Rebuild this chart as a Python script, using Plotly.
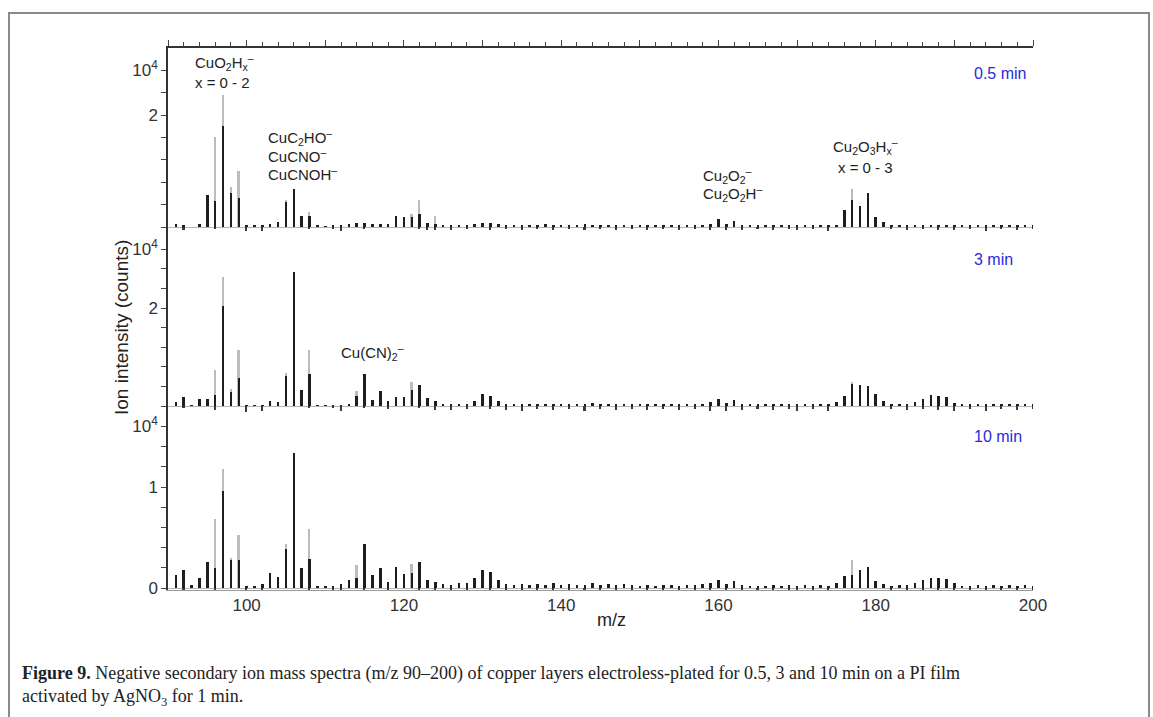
import plotly.graph_objects as go

# m/z channels (integer masses)
mz = list(range(90, 201))

# ---- 0.5 min spectrum (x1e4 counts) ----
black_05 = [
    0.00, 0.05, 0.03, 0.00, 0.05, 0.58, 0.46, 1.80, 0.61, 0.51,
    0.02, 0.02, 0.02, 0.05, 0.09, 0.45, 0.67, 0.19, 0.19, 0.02,
    0.01, 0.02, 0.02, 0.05, 0.08, 0.08, 0.06, 0.06, 0.06, 0.19,
    0.17, 0.18, 0.24, 0.08, 0.06, 0.03, 0.02, 0.03, 0.04, 0.05,
    0.08, 0.08, 0.06, 0.03, 0.03, 0.04, 0.02, 0.03, 0.05, 0.02,
    0.03, 0.04, 0.02, 0.05, 0.03, 0.02, 0.04, 0.03, 0.02, 0.03,
    0.02, 0.03, 0.02, 0.03, 0.02, 0.03, 0.04, 0.03, 0.04, 0.06,
    0.14, 0.05, 0.11, 0.04, 0.03, 0.02, 0.02, 0.03, 0.02, 0.03,
    0.02, 0.03, 0.02, 0.03, 0.02, 0.04, 0.30, 0.48, 0.37, 0.60,
    0.18, 0.09, 0.03, 0.02, 0.02, 0.03, 0.02, 0.02, 0.02, 0.02,
    0.02, 0.02, 0.02, 0.02, 0.02, 0.03, 0.02, 0.02, 0.03, 0.02,
    0.02,
]
dip_05 = [
    0, 0, -0.05, 0, 0, 0, -0.03, 0, 0, 0,
    -0.08, 0, -0.07, 0, 0, 0, 0, 0, -0.04, 0,
    0, -0.03, -0.07, 0, 0, -0.04, 0, 0, 0, 0,
    0, 0, -0.04, -0.05, -0.05, 0, -0.05, 0, -0.04, 0,
    0, -0.05, 0, -0.04, 0, -0.06, 0, -0.04, 0, -0.05,
    0, -0.04, 0, -0.06, 0, -0.04, 0, -0.05, 0, -0.04,
    0, -0.05, 0, -0.04, 0, -0.05, 0, -0.04, 0, -0.06,
    0, -0.06, 0, -0.05, 0, -0.04, 0, -0.05, 0, -0.04,
    -0.06, 0, -0.04, 0, -0.07, 0, 0, 0, 0, 0,
    0, 0, -0.04, 0, -0.05, 0, -0.04, 0, -0.05, 0,
    -0.06, 0, -0.04, 0, -0.07, 0, -0.04, 0, -0.05, 0,
    -0.04,
]

# ---- 3 min spectrum ----
black_3 = [
    0.00, 0.08, 0.19, 0.02, 0.15, 0.15, 0.22, 2.04, 0.29, 0.58,
    0.02, 0.02, 0.02, 0.11, 0.09, 0.61, 2.74, 0.32, 0.65, 0.02,
    0.02, 0.02, 0.02, 0.05, 0.20, 0.65, 0.13, 0.31, 0.10, 0.18,
    0.18, 0.32, 0.42, 0.16, 0.10, 0.03, 0.03, 0.05, 0.05, 0.10,
    0.24, 0.20, 0.10, 0.04, 0.03, 0.05, 0.03, 0.05, 0.03, 0.04,
    0.03, 0.05, 0.03, 0.04, 0.06, 0.03, 0.04, 0.03, 0.05, 0.03,
    0.03, 0.04, 0.03, 0.03, 0.04, 0.03, 0.05, 0.04, 0.05, 0.08,
    0.14, 0.06, 0.12, 0.05, 0.03, 0.03, 0.03, 0.04, 0.03, 0.04,
    0.03, 0.05, 0.03, 0.04, 0.03, 0.08, 0.20, 0.44, 0.42, 0.40,
    0.24, 0.10, 0.04, 0.03, 0.04, 0.08, 0.15, 0.22, 0.20, 0.18,
    0.06, 0.03, 0.03, 0.04, 0.03, 0.05, 0.03, 0.04, 0.03, 0.05,
    0.03,
]
dip_3 = [
    0, 0, -0.05, 0, 0, 0, -0.08, 0, 0, 0,
    -0.12, 0, -0.10, 0, 0, 0, 0, 0, -0.05, 0,
    0, -0.05, -0.10, 0, 0, -0.05, 0, 0, -0.06, 0,
    0, 0, -0.05, 0, -0.08, 0, -0.08, 0, -0.06, 0,
    0, -0.06, 0, -0.08, 0, -0.10, 0, -0.06, 0, -0.08,
    0, -0.06, 0, -0.10, 0, -0.06, 0, -0.08, 0, -0.06,
    0, -0.08, 0, -0.06, 0, -0.08, 0, -0.06, 0, -0.10,
    0, -0.10, 0, -0.08, 0, -0.06, 0, -0.08, 0, -0.06,
    -0.10, 0, -0.06, 0, -0.11, 0, 0, 0, 0, 0,
    0, 0, -0.06, 0, -0.08, 0, -0.06, 0, -0.08, 0,
    -0.10, 0, -0.06, 0, -0.11, 0, -0.06, 0, -0.08, 0,
    -0.06,
]

# ---- 10 min spectrum ----
black_10 = [
    0.00, 0.13, 0.18, 0.03, 0.10, 0.26, 0.20, 0.96, 0.28, 0.28,
    0.01, 0.02, 0.04, 0.15, 0.11, 0.39, 1.34, 0.20, 0.29, 0.02,
    0.01, 0.02, 0.04, 0.08, 0.10, 0.44, 0.13, 0.20, 0.06, 0.21,
    0.14, 0.15, 0.26, 0.08, 0.06, 0.04, 0.03, 0.05, 0.05, 0.10,
    0.18, 0.16, 0.08, 0.04, 0.03, 0.04, 0.03, 0.04, 0.03, 0.05,
    0.03, 0.04, 0.03, 0.03, 0.05, 0.03, 0.04, 0.03, 0.04, 0.03,
    0.02, 0.03, 0.02, 0.03, 0.03, 0.02, 0.03, 0.03, 0.04, 0.05,
    0.08, 0.04, 0.07, 0.03, 0.02, 0.02, 0.02, 0.03, 0.02, 0.03,
    0.02, 0.03, 0.02, 0.03, 0.02, 0.05, 0.12, 0.13, 0.18, 0.21,
    0.07, 0.04, 0.02, 0.03, 0.03, 0.05, 0.08, 0.10, 0.10, 0.09,
    0.05, 0.02, 0.02, 0.03, 0.02, 0.03, 0.02, 0.03, 0.02, 0.03,
    0.02,
]
dip_10 = [
    0, 0, -0.02, 0, 0, 0, -0.03, 0, 0, 0,
    -0.05, 0, -0.04, 0, 0, 0, 0, 0, -0.03, 0,
    0, -0.02, -0.04, 0, 0, -0.03, 0, 0, -0.03, 0,
    0, 0, -0.03, 0, -0.04, 0, -0.04, 0, -0.03, 0,
    0, -0.03, 0, -0.04, 0, -0.05, 0, -0.03, 0, -0.04,
    0, -0.03, 0, -0.05, 0, -0.03, 0, -0.04, 0, -0.03,
    0, -0.04, 0, -0.03, 0, -0.04, 0, -0.03, 0, -0.05,
    0, -0.05, 0, -0.04, 0, -0.03, 0, -0.04, 0, -0.03,
    -0.05, 0, -0.03, 0, -0.06, 0, 0, 0, 0, 0,
    0, 0, -0.03, 0, -0.04, 0, -0.03, 0, -0.04, 0,
    -0.05, 0, -0.03, 0, -0.06, 0, -0.03, 0, -0.04, 0,
    -0.03,
]

# second (grey) trace: only the channels where it rises above the black one
gray_mz = [96, 97, 98, 99, 105, 108, 114, 121, 122, 124, 177]
gray_05 = [1.60, 2.36, 0.71, 1.00, 0.48, 0.27, 0.08, 0.24, 0.48, 0.20, 0.68]
gray_3 = [0.73, 2.63, 0.34, 1.14, 0.68, 1.14, 0.30, 0.48, 0.42, 0.10, 0.50]
gray_10 = [0.68, 1.18, 0.30, 0.52, 0.44, 0.58, 0.23, 0.24, 0.26, 0.06, 0.28]

x_ticks = [100, 120, 140, 160, 180, 200]

# ---------------- figure geometry ----------------
W, H = 1153, 717
L, R, T, B = 168, 1033, 48, 590


def fx(px):
    return (px - L) / (R - L)


def fy(py):
    return (B - py) / (B - T)


fig = go.Figure()

panels = [
    ("y", black_05, dip_05, gray_05),
    ("y2", black_3, dip_3, gray_3),
    ("y3", black_10, dip_10, gray_10),
]
for yax, blk, dip, gry in panels:
    fig.add_trace(go.Bar(x=gray_mz, y=gry, width=0.2, marker_color="#bcbcbc",
                         marker_line_width=0, xaxis="x", yaxis=yax, showlegend=False))
    fig.add_trace(go.Bar(x=mz, y=dip, width=0.2, marker_color="#3a3a3a",
                         marker_line_width=0, xaxis="x", yaxis=yax, showlegend=False))
    fig.add_trace(go.Bar(x=mz, y=blk, width=0.32, marker_color="#1e1e1e",
                         marker_line_width=0, xaxis="x", yaxis=yax, showlegend=False))

# empty trace so that the top (tick-only) axis is drawn
fig.add_trace(go.Scatter(x=[], y=[], xaxis="x2", yaxis="y", showlegend=False,
                         hoverinfo="skip"))

tickfont = dict(family="Liberation Sans, Arial, sans-serif", size=17, color="#333")
yax_common = dict(showline=True, linecolor="#333", linewidth=1.5, ticks="outside",
                  ticklen=5, tickcolor="#444", tickwidth=1, showgrid=False,
                  zeroline=True, zerolinecolor="#b5b5b5", zerolinewidth=1,
                  tickfont=tickfont, anchor="x", fixedrange=True)

# labelled ticks
p1_vals, p1_text = [2.0, 2.8], ["2", "10<sup>4</sup>"]
p2_vals, p2_text = [2.0, 3.2], ["2", "10<sup>4</sup>"]
p3_vals, p3_text = [0, 1.0, 1.6], ["0", "1", "10<sup>4</sup>"]

# panel pixel frames: (top px, bottom px, baseline px, px per unit)
d1 = (T, 232, 227, 56.0)
d2 = (232, 412, 406, 49.0)
d3 = (412, B, 588, 101.0)


def rng(d):
    top, bot, base, s = d
    return [-(bot - base) / s, (base - top) / s]


def minor(step):
    return dict(ticks="outside", ticklen=5, tickcolor="#444", tickwidth=1,
                tick0=0, dtick=step, showgrid=False)


fig.update_layout(
    width=W, height=H,
    margin=dict(l=L, r=W - R, t=T, b=H - B),
    paper_bgcolor="white", plot_bgcolor="white",
    barmode="overlay", bargap=0,
    xaxis=dict(range=[90, 200], tickvals=x_ticks, showline=True, linecolor="#999",
               linewidth=1, ticks="", showgrid=False, zeroline=False,
               tickfont=tickfont, anchor="y3", fixedrange=True),
    xaxis2=dict(range=[90, 200], overlaying="x", side="top", anchor="y",
                showline=True, linecolor="#333", linewidth=1.5, ticks="outside",
                ticklen=6, tickcolor="#444", tick0=90, dtick=10,
                showticklabels=False, showgrid=False, zeroline=False,
                minor=dict(ticks="outside", ticklen=4, tickcolor="#444",
                           tick0=90, dtick=2, showgrid=False),
                fixedrange=True),
    yaxis=dict(domain=[fy(d1[1]), 1], range=rng(d1), tickvals=p1_vals,
               ticktext=p1_text, minor=minor(0.4), **yax_common),
    yaxis2=dict(domain=[fy(d2[1]), fy(d2[0])], range=rng(d2), tickvals=p2_vals,
                ticktext=p2_text, minor=minor(0.4), **yax_common),
    yaxis3=dict(domain=[0, fy(d3[0])], range=rng(d3), tickvals=p3_vals,
                ticktext=p3_text, minor=minor(0.2), **yax_common),
)

ann_font = dict(family="Liberation Sans, Arial, sans-serif", size=15, color="#222")
blue_font = dict(family="Liberation Sans, Arial, sans-serif", size=16, color="#2a2ae0")
M = "<sup>\u2013</sup>"

labels = [
    ("CuO<sub>2</sub>H<sub>x</sub>" + M, 193, 63, ann_font),
    ("x = 0 - 2", 193, 82, ann_font),
    ("CuC<sub>2</sub>HO" + M, 266, 137, ann_font),
    ("CuCNO" + M, 266, 155, ann_font),
    ("CuCNOH" + M, 266, 173, ann_font),
    ("Cu<sub>2</sub>O<sub>2</sub>" + M, 701, 175, ann_font),
    ("Cu<sub>2</sub>O<sub>2</sub>H" + M, 701, 193, ann_font),
    ("Cu<sub>2</sub>O<sub>3</sub>H<sub>x</sub>" + M, 831, 146, ann_font),
    ("x = 0 - 3", 836, 167, ann_font),
    ("Cu(CN)<sub>2</sub>" + M, 339, 352, ann_font),
    ("0.5 min", 972, 73, blue_font),
    ("3 min", 972, 259, blue_font),
    ("10 min", 972, 437, blue_font),
]
for txt, px, py, f in labels:
    fig.add_annotation(x=fx(px), y=fy(py), xref="paper", yref="paper", text=txt,
                       showarrow=False, xanchor="left", yanchor="middle", font=f)

# axis titles
fig.add_annotation(x=fx(121), y=fy(328), xref="paper", yref="paper",
                   text="Ion intensity (counts)", textangle=-90, showarrow=False,
                   xanchor="center", yanchor="middle",
                   font=dict(family="Liberation Sans, Arial, sans-serif", size=19, color="#222"))
fig.add_annotation(x=fx(611), y=fy(620), xref="paper", yref="paper", text="m/z",
                   showarrow=False, xanchor="center", yanchor="middle",
                   font=dict(family="Liberation Sans, Arial, sans-serif", size=18, color="#222"))

# caption
cap_font = dict(family="Liberation Serif, Times New Roman, serif", size=18, color="#222")
fig.add_annotation(x=fx(20), y=fy(673), xref="paper", yref="paper",
                   text="<b>Figure 9.</b> Negative secondary ion mass spectra (m/z 90\u2013200) of copper layers "
                        "electroless-plated for 0.5, 3 and 10 min on a PI film",
                   showarrow=False, xanchor="left", yanchor="middle", font=cap_font)
fig.add_annotation(x=fx(20), y=fy(697), xref="paper", yref="paper",
                   text="activated by AgNO<sub>3</sub> for 1 min.",
                   showarrow=False, xanchor="left", yanchor="middle", font=cap_font)

# outer frame of the figure panel
fig.add_shape(type="rect", xref="paper", yref="paper", x0=fx(9), x1=fx(1149),
              y0=fy(730), y1=fy(13), line=dict(color="#8a8a8a", width=2),
              fillcolor="rgba(0,0,0,0)", layer="below")

fig.write_html("out.html")
